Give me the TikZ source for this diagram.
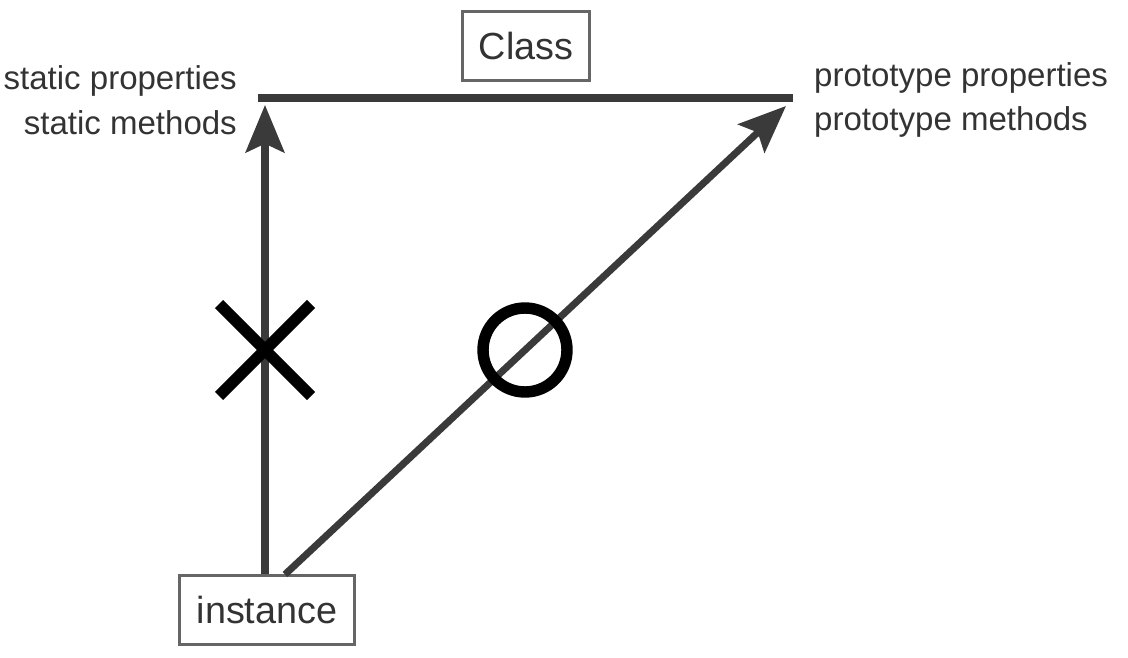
\documentclass[tikz,border=0pt]{standalone}
\usepackage{fontspec}
\setmainfont{Liberation Sans}
\usetikzlibrary{arrows.meta,positioning}
\definecolor{linegray}{HTML}{3A3A3A}
\definecolor{boxgray}{HTML}{666666}
\definecolor{textgray}{HTML}{333333}
\tikzset{
  box/.style={draw=boxgray, line width=1.2pt, text=textgray,
    font=\fontsize{21.5}{25}\selectfont, minimum height=1.38cm},
  side/.style={text=textgray, font=\fontsize{18.8}{25.5}\selectfont},
  bar/.style={draw=linegray, line width=4.4pt},
  link/.style={draw=linegray, line width=4pt,
    -{Stealth[length=27pt,width=22pt,inset=5pt]}},
  markline/.style={draw=black, line width=6.5pt},
}
\begin{document}
\begin{tikzpicture}[x=0.02cm, y=-0.02cm]
  \useasboundingbox (0,0) rectangle (1128,658);

  % Boxes
  \node[box, minimum width=2.54cm] (cls) at (526,46) {Class};
  \node[box, minimum width=3.5cm] (inst) at (267,610) {instance};

  % Bar under the class
  \coordinate (barL) at (258,98);
  \coordinate (barR) at (793,98);
  \draw[bar] (barL) -- (barR);

  % Member labels
  \node[side, align=right, anchor=east] (stat) at (243,100)
    {static properties\\static methods};
  \node[side, align=left, anchor=west] (proto) at (808,100)
    {prototype properties\\prototype methods};

  % Arrows from the instance
  \coordinate (statTip) at (265,105);
  \coordinate (protoTip) at (786,106);
  \draw[link] (inst.north -| statTip) -- (statTip);
  \draw[link] ([xshift=0.36cm]inst.north) -- (protoTip);

  % Cross and circle
  \draw[markline] (219,304) -- (311,396) (219,396) -- (311,304);
  \draw[markline] (525,350) circle (0.84cm);
\end{tikzpicture}
\end{document}
